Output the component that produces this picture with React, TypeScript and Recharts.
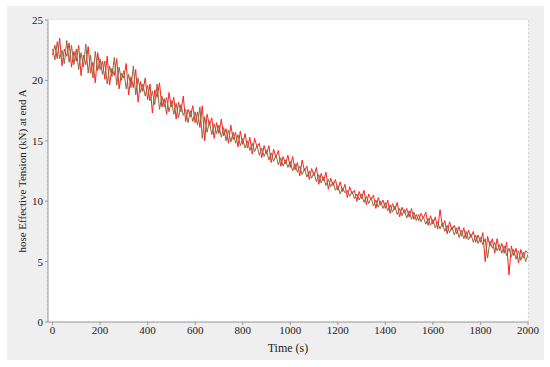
import { LineChart, Line, XAxis, YAxis, CartesianGrid } from "recharts";

// sampled every 10 s, 0..2000
const redSeries = [
  22.1, 22.9, 21.8, 23.5, 21.2, 22.6, 22.0, 23.1, 21.1, 22.4,
  21.6, 22.9, 20.4, 22.1, 21.3, 22.8, 20.6, 21.5, 19.8, 22.3,
  20.9, 21.6, 20.1, 22.0, 19.6, 21.0, 20.4, 21.8, 19.3, 20.6,
  20.2, 21.4, 18.8, 20.3, 19.4, 20.9, 18.2, 19.9, 19.1, 20.2,
  18.4, 19.7, 17.3, 19.2, 18.6, 19.8, 17.8, 18.5, 17.2, 19.0,
  17.8, 18.6, 16.8, 18.2, 17.4, 18.7, 16.6, 17.6, 17.0, 17.9,
  16.5, 17.4, 16.1, 17.9, 15.0, 17.2, 16.3, 16.9, 15.2, 16.5,
  15.6, 16.8, 15.4, 16.0, 14.8, 16.3, 15.1, 15.7, 14.5, 15.8,
  14.7, 15.6, 14.4, 15.3, 13.9, 15.2, 14.5, 14.8, 13.6, 14.6,
  13.9, 14.6, 13.2, 14.3, 13.6, 14.2, 12.9, 13.7, 13.1, 13.8,
  12.8, 13.7, 12.6, 13.2, 12.1, 13.4, 12.5, 12.9, 11.8, 12.7,
  12.1, 12.8, 11.4, 12.3, 11.7, 12.4, 11.0, 11.9, 11.3, 11.8,
  10.9, 11.6, 10.8, 11.4, 10.3, 11.2, 10.6, 10.9, 10.0, 10.8,
  10.2, 10.9, 9.7, 10.6, 10.1, 10.5, 9.4, 10.3, 9.7, 10.1,
  9.4, 10.1, 9.0, 9.8, 9.3, 9.9, 8.7, 9.5, 9.0, 9.4,
  8.7, 9.4, 8.5, 8.9, 8.4, 9.0, 8.6, 9.1, 8.0, 8.8,
  8.1, 8.7, 7.7, 9.3, 7.9, 8.4, 7.3, 8.3, 7.6, 8.0,
  7.3, 7.9, 7.1, 7.8, 6.9, 7.6, 7.0, 7.5, 6.6, 7.2,
  6.6, 7.4, 5.0, 7.1, 6.3, 6.9, 5.7, 6.9, 5.9, 6.5,
  5.7, 6.6, 3.9, 6.3, 5.5, 6.1, 4.9, 6.0, 5.3, 5.9,
  5.7,
];

const brownSeries = [
  22.6, 21.7, 23.2, 21.8, 22.5, 21.4, 23.3, 21.5, 22.9, 21.3,
  22.6, 20.9, 22.3, 21.1, 23.0, 20.6, 22.1, 20.2, 22.4, 20.8,
  21.8, 20.5, 21.6, 19.7, 21.2, 20.3, 21.9, 19.6, 21.1, 20.0,
  20.8, 19.3, 20.5, 19.4, 21.2, 18.8, 20.2, 19.0, 19.7, 18.7,
  19.6, 18.3, 19.1, 18.0, 19.7, 17.6, 18.7, 17.8, 18.6, 17.4,
  18.3, 17.2, 18.1, 16.9, 18.0, 17.1, 17.6, 16.5, 17.5, 16.6,
  17.4, 16.3, 17.8, 15.2, 17.0, 15.7, 16.6, 15.5, 16.4, 15.6,
  16.3, 15.3, 16.1, 15.0, 15.9, 14.9, 15.7, 14.8, 15.5, 14.6,
  15.2, 14.4, 15.0, 14.2, 14.8, 14.1, 14.6, 13.8, 14.4, 13.7,
  14.2, 13.4, 14.0, 13.3, 13.8, 13.0, 13.6, 12.9, 13.4, 12.8,
  13.3, 12.5, 13.1, 12.4, 12.9, 12.2, 12.7, 12.0, 12.5, 11.9,
  12.4, 11.6, 12.2, 11.5, 12.0, 11.3, 11.8, 11.2, 11.6, 10.9,
  11.3, 10.6, 11.1, 10.7, 10.9, 10.4, 10.8, 10.2, 10.6, 10.1,
  10.6, 9.9, 10.4, 9.8, 10.3, 9.6, 10.1, 9.5, 10.0, 9.4,
  9.9, 9.2, 9.7, 9.1, 9.6, 8.9, 9.4, 8.8, 9.3, 8.6,
  9.2, 8.5, 9.1, 8.4, 8.9, 8.3, 8.7, 8.1, 8.6, 8.0,
  8.5, 7.8, 8.3, 7.7, 8.2, 7.5, 8.0, 7.4, 7.9, 7.2,
  7.8, 7.0, 7.6, 6.9, 7.5, 6.8, 7.3, 6.6, 7.2, 6.5,
  7.0, 6.4, 6.9, 5.3, 6.7, 6.1, 6.6, 5.9, 6.4, 5.7,
  6.3, 5.5, 6.1, 5.4, 6.0, 5.2, 5.9, 5.1, 5.8, 5.0,
  5.6,
];

const xTicks = [0, 200, 400, 600, 800, 1000, 1200, 1400, 1600, 1800, 2000];
const yTicks = [0, 5, 10, 15, 20, 25];

const data = redSeries.map((v, i) => ({ t: i * 10, red: v, brown: brownSeries[i] }));

const font = "Liberation Serif";
const tickStyle = { fontSize: 11, fill: "#222", fontFamily: font };

export default function App() {
  return (
    <div style={{ position: "absolute", left: 0, top: 0, width: 550, height: 367, background: "#fff", fontFamily: font }}>
      <div style={{ position: "absolute", left: 7, top: 6, width: 537, height: 354, background: "#efefef" }} />
      <div style={{ position: "absolute", left: 0, top: 0 }}>
        <LineChart width={550} height={367} data={data} margin={{ top: 20, right: 22, bottom: 15, left: 0 }} style={{ fontFamily: font }}>
          <rect x={48} y={20} width={480} height={302} fill="#fff" />
          <CartesianGrid stroke="#c8c8c8" strokeDasharray="2 2" />
          <XAxis
            dataKey="t"
            type="number"
            domain={[-19, 2000]}
            ticks={xTicks}
            allowDataOverflow
            height={30}
            tick={tickStyle}
            tickSize={3}
            tickMargin={1}
            stroke="#999"
            label={{ value: "Time (s)", position: "insideBottom", offset: 0, style: { fontSize: 12, fill: "#222", fontFamily: font } }}
          />
          <XAxis xAxisId="top" orientation="top" dataKey="t" type="number" domain={[-19, 2000]} height={0} tick={false} tickLine={false} stroke="#aaa" />
          <YAxis
            domain={[0, 25]}
            ticks={yTicks}
            width={48}
            tick={tickStyle}
            tickSize={3}
            tickMargin={2}
            stroke="#999"
            label={{ value: "hose Effective Tension (kN) at end A", angle: -90, position: "insideLeft", offset: 22, style: { textAnchor: "middle", fontSize: 11, fill: "#222", fontFamily: font } }}
          />
          <YAxis yAxisId="right" orientation="right" domain={[0, 25]} width={0} tick={false} tickLine={false} stroke="#bbb" />
          <Line dataKey="red" stroke="#ff2020" strokeWidth={1} dot={false} isAnimationActive={false} type="linear" />
          <Line dataKey="brown" stroke="#8a6a3c" strokeWidth={1} dot={false} isAnimationActive={false} type="linear" />
        </LineChart>
      </div>
    </div>
  );
}
